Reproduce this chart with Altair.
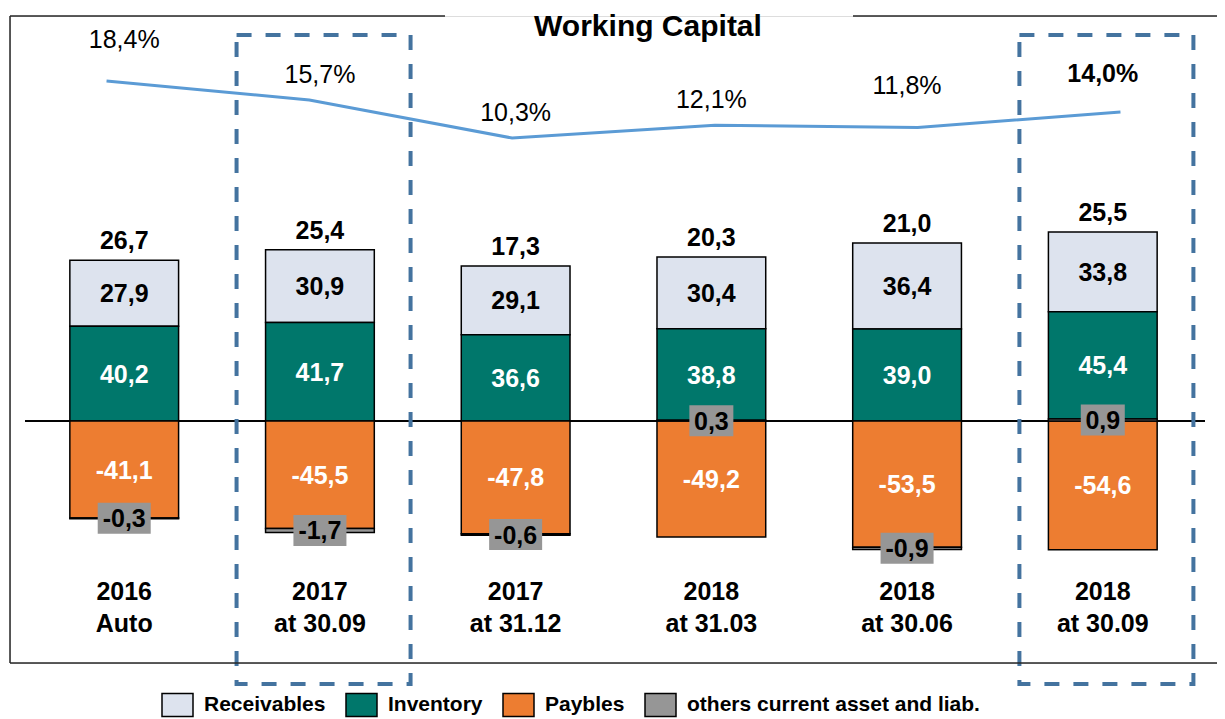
import altair as alt
import pandas as pd

# ---------------- data ----------------
categories = ["2016\nAuto", "2017\nat 30.09", "2017\nat 31.12",
              "2018\nat 31.03", "2018\nat 30.06", "2018\nat 30.09"]
receivables = [27.9, 30.9, 29.1, 30.4, 36.4, 33.8]
inventory = [40.2, 41.7, 36.6, 38.8, 39.0, 45.4]
paybles = [-41.1, -45.5, -47.8, -49.2, -53.5, -54.6]
others = [-0.3, -1.7, -0.6, 0.3, -0.9, 0.9]
totals = [26.7, 25.4, 17.3, 20.3, 21.0, 25.5]
wc_ratio = [18.4, 15.7, 10.3, 12.1, 11.8, 14.0]
highlighted = ["2017\nat 30.09", "2018\nat 30.09"]

series_names = ["Receivables", "Inventory", "Paybles", "others current asset and liab."]
series_colors = ["#DDE3EE", "#00776B", "#ED7D31", "#969696"]
stack_order = {"Paybles": 0, "others current asset and liab.": 1, "Inventory": 2, "Receivables": 3}
OTHERS = series_names[3]


def fmt(v):
    return f"{v:.1f}".replace(".", ",")


rows = []
for name, vals in zip(series_names, [receivables, inventory, paybles, others]):
    for c, v in zip(categories, vals):
        rows.append({"cat": c, "series": name, "val": v, "ord": stack_order[name], "label": fmt(v)})
seg = pd.DataFrame(rows)

tot = pd.DataFrame({
    "cat": categories,
    "top": [r + i + max(o, 0) for r, i, o in zip(receivables, inventory, others)],
    "label": [fmt(t) for t in totals],
})
pct = pd.DataFrame({"cat": categories, "pct": wc_ratio, "label": [fmt(p) + "%" for p in wc_ratio]})

FONT = "Liberation Sans"
W, H = 1207, 647

X_BAR = alt.Scale(type="band", domain=categories, paddingInner=0.4444, paddingOuter=0.3058)
Y_BAR = alt.Scale(domain=[-102.54, 171.61], nice=False, zero=False)
X_LINE = alt.Scale(type="point", domain=categories, padding=0.476)
Y_PCT = alt.Scale(domain=[-64.27, 27.63], nice=False, zero=False)

xb = alt.X("cat:N", scale=X_BAR, axis=None, sort=categories)
yb = alt.Y("top:Q", scale=Y_BAR, axis=None)

# ---------------- bar group ----------------
stacked = alt.Chart(seg).transform_stack(
    stack="val", groupby=["cat"], as_=["v0", "v1"],
    sort=[alt.SortField("ord", order="ascending")], offset="zero"
).transform_calculate(mid="(datum.v0 + datum.v1) / 2")

zero_line = alt.Chart(tot).transform_calculate(z="0").mark_rule(color="black", strokeWidth=1).encode(
    y=alt.Y("z:Q", scale=Y_BAR, axis=None), x=alt.value(15), x2=alt.value(1195)
)

bars = stacked.mark_bar(stroke="black", strokeWidth=1.5).encode(
    x=xb,
    y=alt.Y("v0:Q", scale=Y_BAR, axis=None),
    y2="v1:Q",
    color=alt.Color(
        "series:N",
        scale=alt.Scale(domain=series_names, range=series_colors),
        legend=alt.Legend(
            title=None, orient="none", legendX=151, legendY=672, direction="horizontal",
            symbolType="M-1,-0.742L1,-0.742L1,0.742L-1,0.742Z", symbolSize=961,
            symbolStrokeColor="black", symbolStrokeWidth=1.5, symbolOpacity=1,
            labelFont=FONT, labelFontSize=21, labelFontWeight="bold", labelColor="black",
            labelOffset=10, columnPadding=17, padding=0, labelLimit=500,
        ),
    ),
)

seg_labels = stacked.transform_filter(alt.datum.series != OTHERS).mark_text(
    font=FONT, fontSize=25, fontWeight="bold", baseline="middle", dy=1
).encode(
    x=xb, y=alt.Y("mid:Q", scale=Y_BAR, axis=None), text="label:N",
    color=alt.condition(alt.datum.series == "Receivables", alt.value("black"), alt.value("white")),
)

oth = stacked.transform_filter(alt.datum.series == OTHERS)
box_neg = oth.transform_filter("datum.val < 0").mark_point(
    shape="M-1,-0.585L1,-0.585L1,0.585L-1,0.585Z", size=2809, filled=True,
    color="#969696", opacity=1, strokeWidth=0
).encode(x=xb, y=alt.Y("mid:Q", scale=Y_BAR, axis=None))
box_pos = oth.transform_filter("datum.val >= 0").mark_point(
    shape="M-1,-0.7045L1,-0.7045L1,0.7045L-1,0.7045Z", size=1936, filled=True,
    color="#969696", opacity=1, strokeWidth=0
).encode(x=xb, y=alt.Y("mid:Q", scale=Y_BAR, axis=None))
oth_labels = oth.mark_text(
    font=FONT, fontSize=25, fontWeight="bold", baseline="middle", dy=1, color="black"
).encode(x=xb, y=alt.Y("mid:Q", scale=Y_BAR, axis=None), text="label:N")

total_labels = alt.Chart(tot).mark_text(
    font=FONT, fontSize=25, fontWeight="bold", baseline="alphabetic", dy=-11, color="black"
).encode(x=xb, y=yb, text="label:N")

cat_labels = alt.Chart(tot).mark_text(
    font=FONT, fontSize=25, fontWeight="bold", baseline="alphabetic", lineBreak="\n",
    lineHeight=32, color="black"
).encode(x=xb, y=alt.value(584), text="cat:N")

dashed = alt.Chart(pd.DataFrame({"cat": highlighted})).mark_bar(
    width=174, fillOpacity=0, stroke="#44739F", strokeWidth=4, strokeDash=[15, 14]
).encode(x=xb, xOffset=alt.value(58), y=alt.value(19), y2=alt.value(668))

# frame and title (pixel-positioned decoration)
fc = "#262626"
frame_src = alt.Chart(tot.head(1))
top_left = frame_src.mark_rule(color=fc, strokeWidth=1.5).encode(
    x=alt.value(0), x2=alt.value(435), y=alt.value(0))
top_right = frame_src.mark_rule(color=fc, strokeWidth=1.5).encode(
    x=alt.value(843), x2=alt.value(W), y=alt.value(0))
left = frame_src.mark_rule(color=fc, strokeWidth=1.5).encode(
    x=alt.value(0), y=alt.value(0), y2=alt.value(H))
bottom = frame_src.mark_rule(color=fc, strokeWidth=1.5).encode(
    x=alt.value(0), x2=alt.value(W), y=alt.value(H))
title = frame_src.mark_text(
    text="Working Capital", font=FONT, fontSize=30, fontWeight="bold",
    align="center", baseline="alphabetic", color="black"
).encode(x=alt.value(638), y=alt.value(20))

group_bars = alt.layer(zero_line, bars, seg_labels, box_neg, box_pos, oth_labels,
                       total_labels, cat_labels, dashed,
                       top_left, top_right, left, bottom, title)

# ---------------- line ----------------
line = alt.Chart(pct).mark_line(color="#5B9BD5", strokeWidth=3).encode(
    x=alt.X("cat:N", scale=X_LINE, axis=None, sort=categories),
    y=alt.Y("pct:Q", scale=Y_PCT, axis=None),
)

# ---------------- percentage labels ----------------
yp = alt.Y("pct:Q", scale=Y_PCT, axis=None)
high = [categories[0], categories[4]]
low = [categories[1], categories[2], categories[3]]
pct_high = alt.Chart(pct).transform_filter(alt.FieldOneOfPredicate(field="cat", oneOf=high)).mark_text(
    font=FONT, fontSize=25, baseline="middle", dy=-41, color="black"
).encode(x=xb, y=yp, text="label:N")
pct_low = alt.Chart(pct).transform_filter(alt.FieldOneOfPredicate(field="cat", oneOf=low)).mark_text(
    font=FONT, fontSize=25, baseline="middle", dy=-25, color="black"
).encode(x=xb, y=yp, text="label:N")
pct_last = alt.Chart(pct).transform_filter(alt.FieldEqualPredicate(field="cat", equal=categories[5])).mark_text(
    font=FONT, fontSize=25, fontWeight="bold", baseline="middle", dy=-38, color="black"
).encode(x=xb, y=yp, text="label:N")
group_pct = alt.layer(pct_high, pct_low, pct_last)

chart = alt.layer(group_bars, line, group_pct).resolve_scale(
    x="independent", y="independent"
).properties(
    width=W, height=H,
    padding={"left": 2, "top": 8, "right": 0, "bottom": 62},
    autosize=alt.AutoSizeParams(type="none"),
).configure_view(stroke=None).configure(font=FONT)

chart.save("out.html", embed_options={"renderer": "svg", "actions": False})
